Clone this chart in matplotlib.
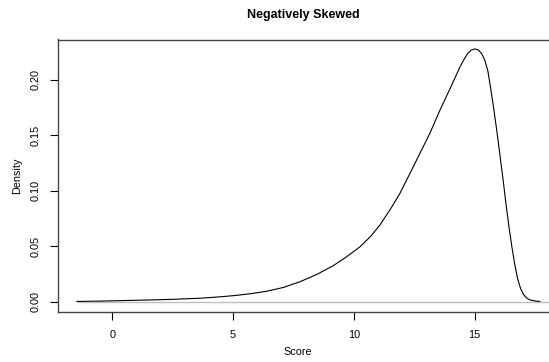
import matplotlib
matplotlib.use("Agg")
import matplotlib.pyplot as plt

# points
score = [-1.47, -0.5, 0.5, 1.5, 2.5, 3.63, 4.3, 5.01, 5.7, 6.39, 7.08, 7.77,
         8.46, 9.15, 9.7, 10.26, 10.7, 11.08, 11.5, 11.91, 12.33, 12.74,
         13.15, 13.57, 13.98, 14.4, 14.55, 14.7, 14.85, 15.0, 15.15, 15.3,
         15.42, 15.55, 15.66, 15.78, 15.92, 16.05, 16.18, 16.3, 16.42, 16.54,
         16.66, 16.78, 16.9, 17.02, 17.16, 17.3, 17.5, 17.7]
density = [0.0002, 0.0005, 0.0010, 0.0015, 0.0021, 0.0031, 0.0041, 0.0054,
           0.0071, 0.0094, 0.0128, 0.018, 0.0245, 0.0325, 0.0405, 0.0496,
           0.059, 0.0692, 0.083, 0.0978, 0.116, 0.134, 0.152, 0.173, 0.192,
           0.212, 0.218, 0.2235, 0.2268, 0.228, 0.2272, 0.2235, 0.218, 0.208,
           0.193, 0.176, 0.154, 0.132, 0.110, 0.088, 0.068, 0.050, 0.034,
           0.021, 0.012, 0.0065, 0.0032, 0.0015, 0.0006, 0.0002]
xticks = [0, 5, 10, 15]
yticks = [0.00, 0.05, 0.10, 0.15, 0.20]

plt.rcParams['font.family'] = ['Liberation Sans', 'DejaVu Sans']

W, H = 549, 362
fig = plt.figure(figsize=(W / 100, H / 100), dpi=100)
left, right, bottom, top = 58.3, 558.4, 312.3, 39.5
ax = fig.add_axes([left / W, 1 - bottom / H, (right - left) / W, (bottom - top) / H])

ax.hlines(0, score[0], 20, color="#bebebe", lw=1)
ax.plot(score, density, color="black", lw=0.8)

ax.set_xlim(-2.24, 18.47)
ax.set_ylim(-0.0096, 0.2365)
ax.set_xticks(xticks)
ax.set_xticklabels([str(t) for t in xticks])
ax.set_yticks(yticks)
ax.set_yticklabels(["%.2f" % t for t in yticks], rotation=90, va="center")
ax.tick_params(direction="out", length=6, width=0.8, labelsize=7.8, pad=7)
for s in ax.spines.values():
    s.set_color("#444444")
    s.set_linewidth(1)

fig.text(0.5 * (left + 549) / W, 1 - 15 / H, "Negatively Skewed",
         ha="center", va="center", fontsize=9, fontweight="bold")
fig.text(298 / W, 1 - 352 / H, "Score", ha="center", va="center", fontsize=7.8)
fig.text(17 / W, 1 - 176 / H, "Density", ha="center", va="center",
         rotation=90, fontsize=7.8)

fig.savefig("out.png", dpi=100)
